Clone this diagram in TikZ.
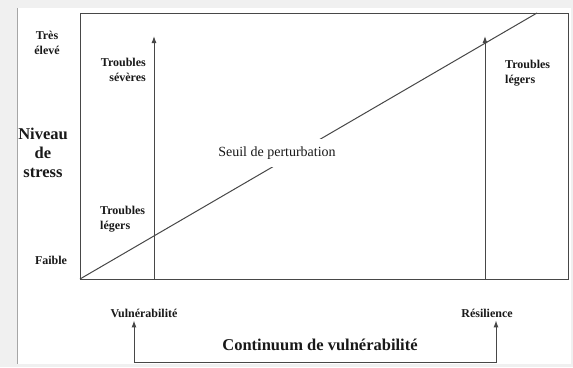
\documentclass[tikz,border=0pt]{standalone}
\usepackage{fontspec}
\setmainfont{Liberation Serif}
\usepackage{tikz}
\usetikzlibrary{positioning,arrows.meta}

\begin{document}
\begin{tikzpicture}[x=1pt,y=-1pt]
\tikzstyle{every node}+=[inner sep=0pt, text=black!90]
\tikzstyle{lbl}=[font=\fontsize{12}{14.5}\selectfont\bfseries]
\tikzstyle{big}=[font=\fontsize{16.5}{19}\selectfont\bfseries]
\tikzstyle{axis}=[draw=black!72, line width=1pt]
\useasboundingbox (0,0) rectangle (573,367);
\fill [black!6] (0,0) rectangle (573,367);
\fill [white] (17,8) rectangle (571,364);
\draw [black!35] (17,8) -- (17,364);
\draw [axis] (80,13) rectangle (568,279);
\coordinate (origin) at (80,279);
\coordinate (top) at (537,13);
\draw [axis] (origin) -- (top);
\coordinate (sevbase) at (154,279);
\coordinate (sevtip) at (154,36);
\draw [axis,-{Latex[length=7pt,width=5pt]}] (sevbase) -- (sevtip);
\coordinate (resbase) at (485,279);
\coordinate (restip) at (485,36);
\draw [axis,-{Latex[length=7pt,width=5pt]}] (resbase) -- (restip);
\node [lbl, align=center] (eleve) at (47,43) {Très\\élevé};
\node [big, align=center] (niveau) at (43,153) {Niveau\\de\\stress};
\node [lbl] (faible) at (51,260) {Faible};
\node [lbl, align=right, anchor=east] (severes) at (146,70) {Troubles\\sévères};
\node [lbl, align=left, anchor=west] (legers) at (100,219) {Troubles\\légers};
\node [lbl, align=left, anchor=west] (legersr) at (505,73) {Troubles\\légers};
\node [fill=white, inner xsep=2pt, inner ysep=8pt, font=\fontsize{14}{16}\selectfont] (seuil) at (277,153) {Seuil de perturbation};
\node [lbl] (vul) at (144,313) {Vulnérabilité};
\node [lbl] (res) at (487,313) {Résilience};
\node [big] (continuum) at (320,345) {Continuum de vulnérabilité};
\coordinate (vulfoot) at (134,362);
\coordinate (resfoot) at (496,362);
\draw [axis, {Latex[length=7pt,width=5pt]}-{Latex[length=7pt,width=5pt]}, shorten <=3pt, shorten >=3pt] (vul.south -| vulfoot) -- (vulfoot) -- (resfoot) -- (res.south -| resfoot);
\end{tikzpicture}
\end{document}
